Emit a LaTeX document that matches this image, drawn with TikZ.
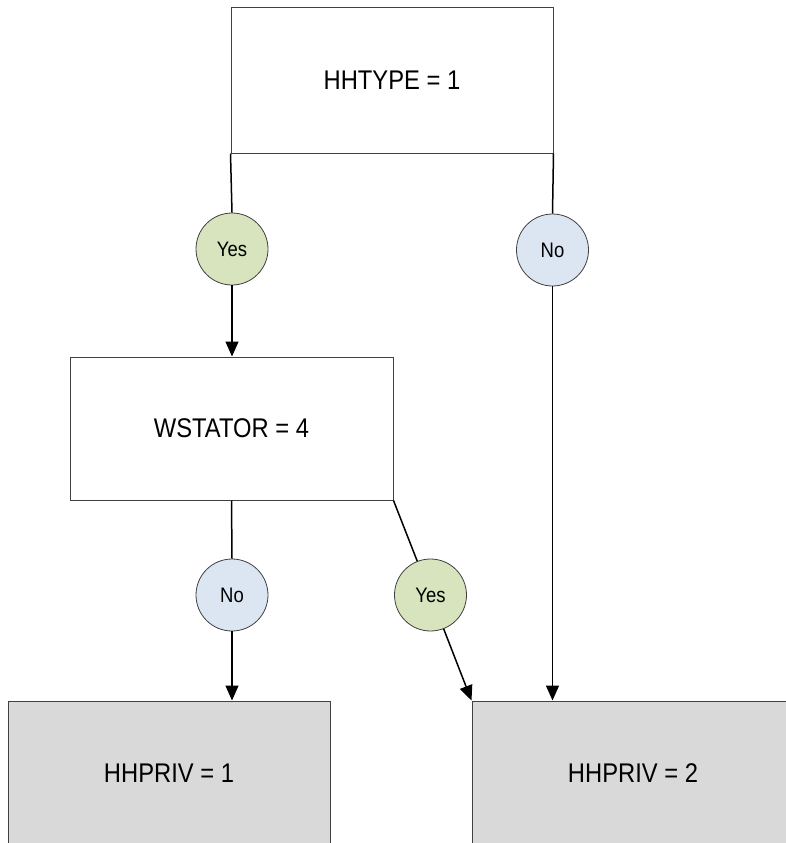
\documentclass[tikz,border=0pt]{standalone}
\usepackage{fontspec}
\setmainfont{Liberation Sans}
\newfontfamily\narrowfont[FakeStretch=0.88]{Liberation Sans}
\usetikzlibrary{arrows.meta}
\definecolor{yesfill}{HTML}{D7E4BD}
\definecolor{nofill}{HTML}{DCE6F2}
\definecolor{endfill}{HTML}{D9D9D9}
\definecolor{edge}{HTML}{404040}
\tikzset{
  x=1pt, y=-1pt,
  box/.style={draw=edge, line width=1pt, rectangle, minimum width=322pt, minimum height=145pt, inner sep=0pt,
    font=\narrowfont\fontsize{27}{30}\selectfont},
  endbox/.style={box, fill=endfill},
  yesc/.style={draw=edge, line width=0.8pt, circle, fill=yesfill, minimum size=72pt, inner sep=0pt,
    font=\narrowfont\fontsize{21}{24}\selectfont},
  noc/.style={yesc, fill=nofill},
  conn/.style={line width=1.5pt, black},
  arr/.style={conn, -{Triangle[length=15pt,width=13pt]}}
}
\begin{document}
\begin{tikzpicture}
\useasboundingbox (0,0) rectangle (785,843);
\node[box] (h1) at (392,80.5) {HHTYPE = 1};
\node[box, minimum width=323pt, minimum height=143pt] (ws) at (231.5,428.5) {WSTATOR = 4};
\node[endbox] (p1) at (169,773.5) {HHPRIV = 1};
\node[endbox] (p2) at (633,773.5) {HHPRIV = 2};
\node[yesc] (yes1) at (232,249) {Yes};
\node[noc] (no1) at (552.5,250) {No};
\node[noc] (no2) at (232,595) {No};
\node[yesc] (yes2) at (430.5,595) {Yes};
\draw[conn] (h1.south west) -- (yes1.north);
\draw[arr] (yes1.south) -- (yes1.south |- ws.north);
\draw[conn] (h1.south east) -- (no1.north);
\draw[arr] (no1.south) -- (no1.south |- p2.north);
\draw[conn] (ws.south) -- (no2.north);
\draw[arr] (no2.south) -- (no2.south |- p1.north);
\draw[conn] (ws.south east) -- (yes2);
\draw[arr] (yes2) -- (p2.north west);
\end{tikzpicture}
\end{document}
